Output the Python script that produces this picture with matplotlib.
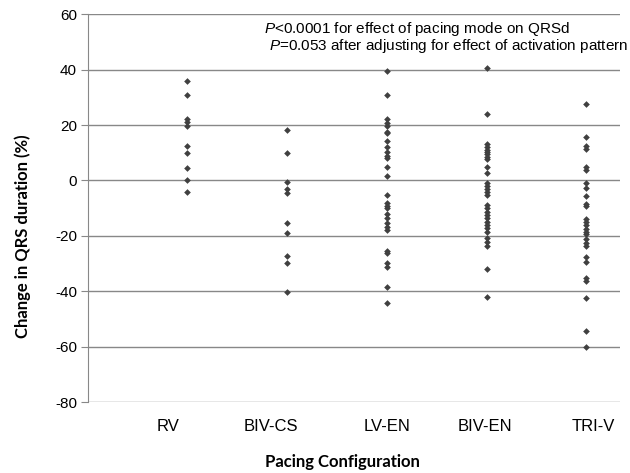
import numpy as np
import matplotlib.pyplot as plt

plt.rcParams['mathtext.fontset'] = 'custom'
plt.rcParams['mathtext.rm'] = 'Liberation Sans'
plt.rcParams['mathtext.it'] = 'Liberation Sans:italic'

# pacing configurations and % change in QRS duration per patient
configs = ['RV', 'BIV-CS', 'LV-EN', 'BIV-EN', 'TRI-V']

rv = [36, 31, 22, 21, 19.7, 12.6, 10, 4.6, 0, -4.3]
biv_cs = [18.1, 10, -0.6, -3.2, -4.7, -15.3, -19.1, -27.4, -29.9, -40.4]
lv_en = [39.6, 30.9, 22.1, 20.8, 19.7, 17.5, 17, 14.2, 11.9, 10.2, 8.9, 8.2, 4.9, 1.6,
         -5.2, -8.3, -9.3, -10.1, -12.3, -13.7, -15.2, -16.7, -17.9,
         -25.4, -26.3, -29.9, -31.4, -38.6, -44.3]
biv_en = [40.6, 23.8, 13, 12, 11, 10.3, 9.5, 8.5, 7.8, 4.7, 2.5,
          -1, -2, -3.2, -4.2, -5.3, -8.9, -10.1, -11.3, -12.5, -13.7, -14.9,
          -16.1, -17.3, -18.5, -20.9, -22.1, -23.6, -32, -42]
tri_v = [27.5, 15.5, 12.5, 11.5, 4.9, 3.7, -1.1, -2.9, -5.7, -8.5, -9.3,
         -14, -15, -16, -17.5, -18.5, -19.5, -21, -22.5, -23.5,
         -27.8, -29.3, -35.3, -36.2, -42.5, -54.5, -60]
groups = [rv, biv_cs, lv_en, biv_en, tri_v]

# category labels sit slightly off the point columns in the original
label_pos = [0.81, 1.84, 3.0, 3.98, 5.07]
yticks = [60, 40, 20, 0, -20, -40, -60, -80]

fig = plt.figure(figsize=(6.3, 4.73), dpi=100)
ax = fig.add_axes([0.1397, 0.150, 0.845, 0.820])

for i, vals in enumerate(groups):
    ax.plot(np.full(len(vals), i + 1), vals, linestyle='none', marker='D',
            markersize=3.4, color='#404040', markeredgewidth=0)

ax.set_xlim(0.01, 5.34)
ax.set_ylim(-80, 60)
ax.set_yticks(yticks)
ax.set_yticklabels([str(t) for t in yticks], fontsize=11, family='Liberation Sans')
ax.set_xticks(label_pos)
ax.set_xticklabels(configs, fontsize=12, family='Liberation Sans')
ax.tick_params(axis='x', length=0, pad=12)
ax.tick_params(axis='y', length=5, color='#888888', direction='out', pad=3)

ax.grid(axis='y', color='#888888', linewidth=1)
ax.set_axisbelow(True)
for s in ['top', 'right', 'bottom']:
    ax.spines[s].set_visible(False)
ax.spines['left'].set_color('#888888')

ax.set_ylabel('Change in QRS duration (%)', fontsize=12, fontweight='bold',
              family='Lato')
ax.yaxis.set_label_coords(-0.107, 0.428)
ax.set_xlabel('Pacing Configuration', fontsize=12, fontweight='bold',
              family='Lato')
ax.xaxis.set_label_coords(0.478, -0.135)

ax.text(0.330, 0.961, r'$\it{P}$<0.0001 for effect of pacing mode on QRSd',
        transform=ax.transAxes, fontsize=11, family='Liberation Sans', va='center', ha='left')
ax.text(0.340, 0.918, r'$\it{P}$=0.053 after adjusting for effect of activation pattern',
        transform=ax.transAxes, fontsize=11, family='Liberation Sans', va='center', ha='left')

fig.savefig('out.png', dpi=100)
